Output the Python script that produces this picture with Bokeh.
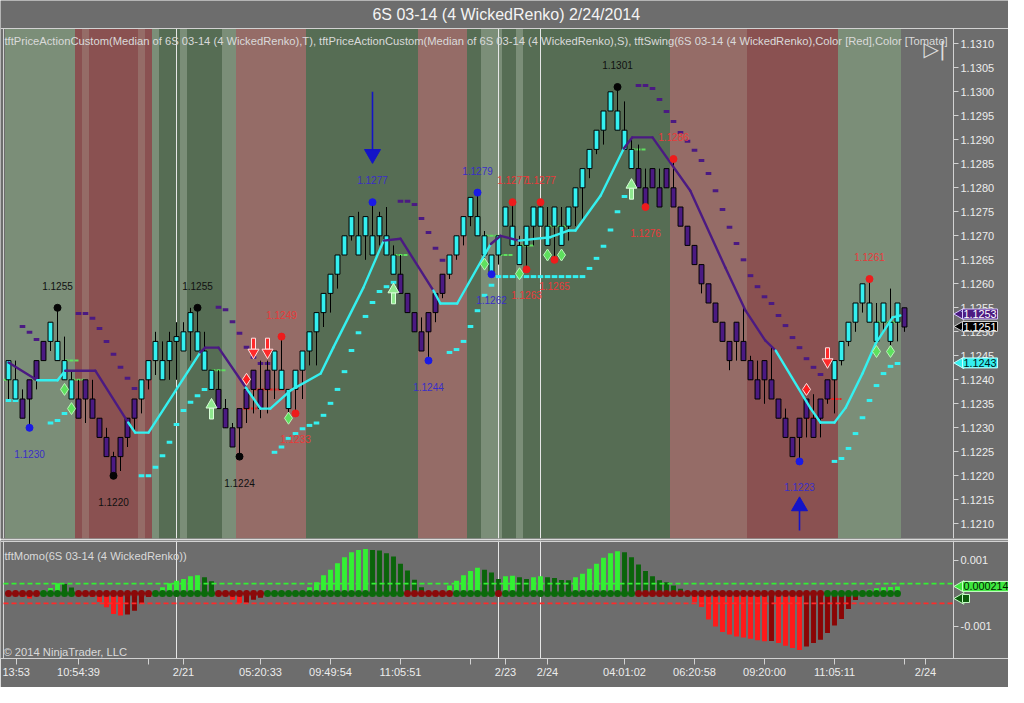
import numpy as np
from bokeh.plotting import figure
from bokeh.layouts import column
from bokeh.models import Range1d, FixedTicker, PrintfTickFormatter, Label, ColumnDataSource
from bokeh.core.properties import value
from bokeh.embed import file_html
from bokeh.resources import INLINE

# ------------------------------------------------------------------ texts
TITLE = "6S 03-14 (4 WickedRenko)  2/24/2014"
IND_TEXT = ("tftPriceActionCustom(Median of 6S 03-14 (4 WickedRenko),T), "
            "tftPriceActionCustom(Median of 6S 03-14 (4 WickedRenko),S), "
            "tftSwing(6S 03-14 (4 WickedRenko),Color [Red],Color [Tomato]")
MOMO_TEXT = "tftMomo(6S 03-14 (4 WickedRenko))"
COPYRIGHT = "\u00a9 2014 NinjaTrader, LLC"

# ------------------------------------------------------------------ data
BASE = 1.1200   # price of tick 0
TICK = 0.0001   # one tick

bar_open = [40, 36, 36, 40, 44, 48, 48, 44, 40, 36,
            36, 40, 36, 32, 28, 24, 28, 32, 36, 36,
            40, 44, 40, 44, 48, 46, 50, 46, 42, 38,
            38, 34, 30, 34, 38, 42, 38, 42, 42, 38,
            34, 38, 42, 46, 50, 54, 58, 62, 66, 70,
            66, 70, 66, 70, 66, 62, 62, 58, 54, 50,
            54, 58, 62, 62, 66, 70, 74, 70, 66, 62,
            66, 72, 68, 64, 68, 72, 72, 68, 72, 68,
            72, 76, 80, 84, 88, 92, 96, 92, 88, 84,
            84, 80, 84, 80, 84, 80, 76, 72, 68, 64,
            60, 56, 52, 48, 52, 48, 44, 40, 44, 40,
            36, 32, 28, 32, 36, 32, 36, 40, 40, 44,
            48, 52, 56, 52, 48, 52, 48, 52, 55]
bar_close = [44, 40, 32, 36, 40, 44, 52, 48, 44, 40,
             32, 36, 32, 28, 24, 20, 24, 28, 32, 40,
             44, 48, 44, 48, 49, 50, 54, 50, 46, 42,
             34, 30, 26, 30, 34, 38, 34, 38, 46, 42,
             38, 42, 46, 50, 54, 58, 62, 66, 70, 74,
             70, 74, 70, 74, 70, 66, 58, 54, 50, 46,
             50, 54, 58, 66, 70, 74, 78, 74, 70, 66,
             70, 76, 72, 68, 72, 76, 76, 72, 76, 72,
             76, 80, 84, 88, 92, 96, 100, 96, 92, 88,
             80, 76, 80, 76, 80, 76, 72, 68, 64, 60,
             56, 52, 48, 44, 48, 44, 40, 36, 40, 36,
             32, 28, 24, 28, 32, 28, 32, 36, 44, 48,
             52, 56, 60, 56, 52, 56, 52, 56, 51]
bar_high = [44, 44, 38, 40, 44, 48, 52, 55, 49, 42,
            40, 40, 40, 32, 30, 25, 28, 32, 36, 40,
            44, 50, 48, 50, 52, 52, 55, 55, 50, 42,
            42, 36, 31, 34, 38, 42, 44, 44, 46, 49,
            38, 42, 46, 50, 54, 58, 62, 66, 70, 74,
            75, 74, 77, 75, 76, 68, 66, 58, 54, 53,
            54, 58, 62, 66, 70, 74, 78, 79, 71, 66,
            70, 76, 77, 70, 72, 76, 77, 76, 76, 76,
            76, 80, 84, 88, 92, 96, 100, 101, 98, 90,
            89, 84, 84, 84, 84, 86, 76, 72, 68, 64,
            60, 56, 52, 48, 52, 55, 45, 44, 44, 47,
            36, 34, 28, 32, 36, 37, 36, 40, 44, 48,
            52, 56, 60, 61, 56, 56, 59, 56, 55]
bar_low = [36, 36, 32, 30, 38, 44, 46, 44, 40, 36,
           32, 31, 32, 28, 24, 20, 21, 26, 29, 33,
           38, 41, 40, 40, 40, 46, 44, 46, 42, 38,
           34, 30, 26, 24, 31, 33, 32, 33, 36, 38,
           32, 33, 36, 43, 43, 51, 54, 59, 66, 69,
           66, 65, 66, 68, 66, 62, 58, 54, 50, 46,
           44, 52, 57, 61, 65, 68, 72, 70, 65, 62,
           64, 72, 68, 64, 63, 68, 72, 68, 65, 68,
           69, 72, 73, 82, 87, 89, 96, 92, 88, 84,
           80, 76, 80, 76, 80, 76, 72, 68, 64, 58,
           56, 52, 48, 42, 44, 44, 40, 36, 35, 36,
           32, 28, 24, 23, 28, 28, 28, 35, 33, 43,
           47, 50, 54, 52, 48, 50, 46, 48, 50]

# median line (bar index, ticks) and its state per segment (U = rising/cyan, D = falling/purple)
ma_bar = [0, 4.1, 7, 8.1, 12.4, 17.1, 18.1, 20, 27.4, 28.1, 30, 33.9, 36, 37.4, 40.3,
          44.6, 46.4, 50.7, 53.6, 56, 60.7, 61.7, 64.1, 68.9, 70.3, 72.9, 77.4, 80, 81,
          84.6, 87.9, 89.1, 92, 97.4, 102.4, 105.3, 108.1, 109.6, 114.6, 116, 118, 119.6,
          122, 123.9, 126.3, 127.4]
ma_tick = [43.6, 39.9, 39.9, 41.9, 41.9, 31.1, 29.0, 29.0, 45.7, 46.7, 46.7, 38.4, 34.0,
           34.0, 37.8, 41.3, 46.7, 59.2, 69.0, 69.4, 58.6, 55.9, 55.9, 68.3, 70.0, 69.0,
           69.7, 71.1, 71.1, 78.4, 88.2, 90.5, 90.5, 79.4, 63.4, 54.4, 48.2, 46.1, 34.0,
           31.1, 31.1, 34.2, 41.3, 47.6, 53.0, 53.4]
ma_trend = "DUUDDUUUDDDUUUUUUUDDUUUDDUUUUUDDDDDDDUUUUUUU" + "U"

# trailing stop dashes
up_stop_bar = [0, 1, 6, 7, 8, 19, 20, 21, 22, 23, 24, 25, 26, 27, 28,
               38, 39, 40, 41, 42, 43, 44, 45, 46, 47, 48, 49, 50, 51, 52, 53, 54, 55,
               63, 64, 65, 66, 67, 68, 69, 70, 71, 72, 73, 74, 75, 76, 77, 78, 79, 80, 81, 82,
               83, 84, 85, 86, 87, 88,
               118, 119, 120, 121, 122, 123, 124, 125, 126, 127]
up_stop_tick = [35.7, 35.7, 31.0, 31.5, 33.0, 20.0, 20.0, 21.8, 24.2, 27.0, 30.7, 33.6, 35.3, 36.7, 38.0,
                24.9, 26.0, 27.8, 28.8, 29.8, 30.5, 31.0, 32.6, 35.1, 38.0, 41.7, 46.1, 49.8, 53.2, 56.1,
                58.4, 59.4, 60.3,
                45.7, 46.3, 48.0, 51.1, 54.4, 57.6, 59.7, 61.5, 61.5, 61.5, 61.5, 61.5, 61.5, 61.5, 61.5,
                61.5, 61.5, 61.5, 61.5, 61.5,
                63.2, 65.3, 67.8, 71.2, 75.0, 78.2,
                23.0, 23.6, 25.7, 28.8, 32.1, 35.7, 38.8, 41.3, 42.8, 43.4]
dn_stop_bar = [2, 3, 4, 10, 11, 12, 13, 14, 15, 16, 17, 18,
               30, 31, 32, 33, 34, 35, 36, 37,
               56, 57, 58, 59, 60, 61, 62,
               90, 91, 92, 93, 94, 95, 96, 97, 98, 99, 100, 101, 102, 103, 104, 105, 106,
               107, 108, 109, 110, 111, 112, 113, 114, 115, 116]
dn_stop_tick = [51.1, 49.9, 48.4, 53.8, 53.8, 52.8, 50.7, 48.0, 45.3, 42.6, 40.3, 38.2,
                55.1, 54.6, 52.1, 49.7, 46.8, 44.7, 43.4, 43.4,
                77.2, 77.2, 76.5, 73.6, 70.7, 67.4, 64.9,
                101.3, 101.3, 100.7, 98.4, 95.9, 93.8, 91.5, 89.7, 87.8, 85.7, 83.0, 79.4, 75.5,
                71.8, 68.4, 65.0, 61.7, 59.4, 57.3, 55.9, 53.4, 51.3, 48.8, 46.7, 44.4, 42.6, 41.1]

# short horizontal levels (from bar, to bar, ticks)
green_lvl_from = [-0.7, 8, 9, 29, 55, 68, 70, 73, 77, 89, 124]
green_lvl_to = [0.3, 10, 11, 31, 57, 70, 72, 75, 80, 91, 127.5]
green_lvl_tick = [40, 44, 40, 42, 66, 70, 66, 68, 72, 88, 52]
red_lvl_from = [33.5, 35, 114, 117]
red_lvl_to = [35.5, 39.5, 115.5, 119]
red_lvl_tick = [34, 38, 32, 36]

# swing points
swing_bar = [3, 7, 15, 27, 33, 39, 41, 52, 60, 67, 69, 72, 74, 76, 78, 87, 91, 95, 113, 123]
swing_tick = [30, 55, 20, 55, 24, 49, 33, 77, 44, 79, 62, 77, 63, 77, 65, 101, 76, 86, 23, 61]
swing_side = "LHLHLHLHLHLHLHLHLHLH"
swing_group = "BKKKKRRBBBBRRRRKRRBR"

# diamonds
green_dia_bar = [8, 9, 40, 68, 73, 77, 79, 124, 126]
green_dia_tick = [38, 34, 32, 64.1, 62.1, 66, 66, 45.9, 45.9]
red_dia_bar = [34, 114]
red_dia_tick = [40.1, 38]

# arrows (tip in ticks)
green_up_bar = [29, 55, 89]
green_up_tip = [36.1, 60.1, 81.9]
red_dn_bar = [35, 37, 117]
red_dn_tip = [44.4, 44.4, 42.4]
blue_dn_bar = [52]
blue_dn_tail = [100.0]
blue_dn_tip = [85.2]
blue_up_bar = [113]
blue_up_tail = [8.6]
blue_up_tip = [15.5]

# background state per bar (runs)
band_runs = [("LG", 10), ("RD", 1), ("PK", 1), ("RD", 7), ("PK", 1), ("RD", 1), ("LG", 1),
             ("DG", 3), ("LG", 1), ("DG", 5), ("LG", 2), ("PK", 10), ("DG", 16), ("PK", 7),
             ("DG", 2), ("LG", 3), ("DG", 2), ("LG", 1), ("DG", 21), ("PK", 11), ("RD", 13),
             ("LG", 9)]
session_bars = [24, 70, 76]

# momentum (units of 1e-5)
momo_e5 = [-5, -5, -10, -15, -6, 8, 17, 31, 29, 18,
           -2, -5, -11, -26, -42, -62, -67, -64, -52, -31,
           -11, 2, 19, 31, 39, 44, 52, 55, 49, 37,
           -3, -6, -19, -29, -28, -19, -13, -2, 1, 2,
           1, 2, 3, 19, 34, 55, 72, 92, 110, 125,
           132, 135, 132, 130, 122, 112, 90, 70, 42, 19,
           5, -2, -3, 24, 39, 55, 68, 78, 72, 64,
           44, 52, 54, 49, 44, 49, 52, 49, 47, 41,
           40, 49, 60, 75, 90, 108, 122, 128, 125, 110,
           88, 68, 52, 40, 34, 24, 14, 3, -26, -41,
           -79, -100, -117, -124, -130, -133, -137, -142, -145, -144,
           -150, -158, -165, -171, -161, -150, -140, -120, -97, -77,
           -47, -20, 2, 11, 16, 19, 20, 21.4]
momo_dot_runs = [("R", 5), ("G", 5), ("R", 11), ("G", 9), ("R", 7), ("G", 20), ("R", 7),
                 ("G", 6), ("R", 1), ("G", 19), ("R", 27), ("G", 11)]
momo_levels = [0.0003, -0.0003]

price_ticks = [round(1.1210 + 0.0005 * k, 4) for k in range(21)]
momo_ticks = [-0.001, 0.001]
time_ticks = [1.1, 10, 20, 25, 36, 46, 56, 66, 71, 77, 88, 98, 108, 118, 128, 131]
time_labels = ["13:53", "10:54:39", "", "2/21", "05:20:33", "09:49:54", "11:05:51", "",
               "2/23", "2/24", "04:01:02", "06:20:58", "09:20:00", "11:05:11", "", "2/24"]

tag_purple = 1.1253
tag_last = 1.1251
tag_stop = 1.1243
tag_momo = 0.000214
tag_dots = 0.0

# ------------------------------------------------------------------ styles / layout
FONT = "Liberation Sans"
BG = "#6d6d6d"
FRAME = "#d2d2d2"
LABEL = "#ececec"
BAND_COL = {"LG": "#7b8e78", "DG": "#566d54", "RD": "#8a5151", "PK": "#956c67"}
CYAN = "#34f0f0"
PURPLE = "#4b1a82"
LIME = "#33f033"
DKGREEN = "#0a640a"
RED = "#ff1a1a"
DKRED = "#8b0505"
SW_DOT = {"B": "#1a1ae6", "K": "#050505", "R": "#ee1c1c"}
SW_TXT = {"B": "#3a2fc8", "K": "#101010", "R": "#e83a3a"}

W = 1008
H_A, H_B = 539, 148
FH_A = H_A - 1                       # price frame includes the title strip
FH_B = 118
PXB = 7.0                            # screen px per bar
X0 = 8.0                             # screen x of bar 0
X_RANGE = (-X0 / PXB, (W - X0) / PXB)
LEFT_EDGE = -5.0 / PXB               # left border line of the panels
AXIS_X = 135.0                       # price scale sits right of the last bars
PRICE_RANGE = (1.120694, 1.131902)   # frame bottom .. canvas top
PRICE_FRAME_TOP = 1.131319           # top edge of the price panel (below the title strip)
MOMO_RANGE = (-0.00197, 0.001606)


def price(t):
    return BASE + np.asarray(t, dtype=float) * TICK


def style_axis(ax, tick_out):
    ax.major_label_text_color = LABEL
    ax.major_label_text_font = FONT
    ax.major_label_text_font_size = "11px"
    ax.axis_line_color = FRAME
    ax.major_tick_line_color = FRAME
    ax.major_tick_in = 0
    ax.major_tick_out = tick_out
    ax.minor_tick_line_color = None
    ax.major_label_standoff = 2


def tag(fig, yv, txt, bg, fg, border, ppx, shift=0.0, size="10.8px"):
    # ppx: data units per screen pixel on the y axis of fig
    fig.scatter(x=[AXIS_X + 7.0 / PXB], y=[yv + shift * ppx], marker="triangle",
                angle=np.pi / 2, size=11.5, fill_color=bg, line_color=border)
    fig.add_layout(Label(x=AXIS_X, y=yv, x_units="data", y_units="data", text=txt,
                         x_offset=9, y_offset=shift, text_align="left", text_baseline="middle",
                         text_font=FONT, text_font_size=size, text_color=fg,
                         background_fill_color=bg, border_line_color=border, padding=1))


# ------------------------------------------------------------------ price panel
pA = figure(width=W, height=H_A, x_range=Range1d(*X_RANGE), y_range=Range1d(*PRICE_RANGE),
            output_backend="svg", toolbar_location=None, x_axis_location=None,
            y_axis_location="right", min_border_left=0, min_border_right=0,
            min_border_top=0, min_border_bottom=1, background_fill_color=BG,
            border_fill_color=BG, outline_line_color=None)
pA.grid.visible = False
pxp = (PRICE_RANGE[1] - PRICE_RANGE[0]) / FH_A

ya = pA.yaxis[0]
ya.fixed_location = AXIS_X
ya.bounds = (PRICE_RANGE[0], PRICE_FRAME_TOP)
ya.ticker = FixedTicker(ticks=price_ticks)
ya.formatter = PrintfTickFormatter(format="%.4f")
style_axis(ya, 5)

# background bands
x0s, x1s, bcols = [], [], []
pos = -0.5
for kind, n in band_runs:
    x0s.append(pos)
    x1s.append(pos + n)
    bcols.append(BAND_COL[kind])
    pos += n
pA.quad(left=x0s, right=x1s, bottom=PRICE_RANGE[0], top=PRICE_FRAME_TOP, fill_color=bcols,
        line_color=None)
pA.segment(x0=session_bars, y0=PRICE_RANGE[0], x1=session_bars, y1=PRICE_FRAME_TOP,
           line_color="#e6e6e6", line_width=1)
pA.hspan(y=[PRICE_FRAME_TOP], line_color=FRAME, line_width=1)
pA.segment(x0=[LEFT_EDGE], y0=[PRICE_RANGE[0]], x1=[LEFT_EDGE], y1=[PRICE_FRAME_TOP],
           line_color=FRAME, line_width=1)

# trailing stops
pA.rect(x=up_stop_bar, y=price(up_stop_tick), width=0.8, height=3, height_units="screen",
        fill_color=CYAN, line_color=None)
pA.rect(x=dn_stop_bar, y=price(dn_stop_tick), width=0.8, height=3, height_units="screen",
        fill_color=PURPLE, line_color=None)

# short levels
pA.segment(x0=green_lvl_from, y0=price(green_lvl_tick), x1=green_lvl_to, y1=price(green_lvl_tick),
           line_color="#5fe05f", line_width=2, line_dash="4 1")
pA.segment(x0=red_lvl_from, y0=price(red_lvl_tick), x1=red_lvl_to, y1=price(red_lvl_tick),
           line_color="#e62222", line_width=2, line_dash="3 1")

# candles
o = price(bar_open)
c = price(bar_close)
bx = np.arange(len(bar_open))
csrc = ColumnDataSource(dict(x=bx, top=np.maximum(o, c), bottom=np.minimum(o, c),
                             high=price(bar_high), low=price(bar_low),
                             color=np.where(c > o, CYAN, PURPLE)))
pA.segment(x0="x", y0="high", x1="x", y1="low", source=csrc, line_color="black", line_width=1)
pA.vbar(x="x", width=0.7, top="top", bottom="bottom", source=csrc, fill_color="color",
        line_color="black", line_width=1)

# median line
mx = np.array(ma_bar)
my = price(ma_tick)
mcol = [CYAN if s == "U" else PURPLE for s in ma_trend[:len(mx) - 1]]
pA.segment(x0=mx[:-1], y0=my[:-1], x1=mx[1:], y1=my[1:], line_color=mcol, line_width=2.4,
           line_cap="round")

# swings
sx = np.array(swing_bar)
sy = price(swing_tick)
ssrc = ColumnDataSource(dict(
    x=sx, y=sy, text=["%.4f" % v for v in sy],
    dot=[SW_DOT[g] for g in swing_group], tc=[SW_TXT[g] for g in swing_group],
    off=[-22 if s == "H" else 26 for s in swing_side]))
pA.scatter(x="x", y="y", source=ssrc, size=7, fill_color="dot", line_color="dot")
pA.text(x="x", y="y", text="text", y_offset="off", source=ssrc, text_align="center",
        text_baseline="middle", text_font=value(FONT), text_font_size="10px", text_color="tc")

# diamonds
pA.scatter(x=green_dia_bar, y=price(green_dia_tick), marker="diamond", size=12,
           fill_color="#5ee05e", line_color="#b8f5b8", line_width=1)
pA.scatter(x=red_dia_bar, y=price(red_dia_tick), marker="diamond", size=12,
           fill_color="#ff1e1e", line_color="#ffe0e0", line_width=1)

# arrows
gt = price(green_up_tip)
pA.rect(x=green_up_bar, y=gt - 15 * pxp, width=4, width_units="screen", height=11 * pxp,
        fill_color="#8ee88e", line_color="#d8ffd8")
pA.scatter(x=green_up_bar, y=gt - 6.3 * pxp, marker="triangle", size=11,
           fill_color="#8ee88e", line_color="#d8ffd8")
rt = price(red_dn_tip)
pA.rect(x=red_dn_bar, y=rt + 15 * pxp, width=4, width_units="screen", height=11 * pxp,
        fill_color="#ff2a2a", line_color="#ffe0e0")
pA.scatter(x=red_dn_bar, y=rt + 6.3 * pxp, marker="inverted_triangle", size=11,
           fill_color="#ff2a2a", line_color="#ffe0e0")
BLUE = "#1414c8"
pA.segment(x0=blue_dn_bar, y0=price(blue_dn_tail), x1=blue_dn_bar,
           y1=price(blue_dn_tip) + 10 * pxp, line_color=BLUE, line_width=1.6)
pA.scatter(x=blue_dn_bar, y=price(blue_dn_tip) + 8.7 * pxp, marker="inverted_triangle", size=16,
           fill_color=BLUE, line_color=BLUE)
pA.segment(x0=blue_up_bar, y0=price(blue_up_tail), x1=blue_up_bar,
           y1=price(blue_up_tip) - 10 * pxp, line_color=BLUE, line_width=1.6)
pA.scatter(x=blue_up_bar, y=price(blue_up_tip) - 8.7 * pxp, marker="triangle", size=16,
           fill_color=BLUE, line_color=BLUE)

# texts and tags
pA.add_layout(Label(x=508, y=FH_A - 14, x_units="screen", y_units="screen", text=TITLE,
                    text_align="center", text_baseline="middle", text_font=FONT,
                    text_font_size="16px", text_color="#f4f4f4"))
pA.add_layout(Label(x=4, y=FH_A - 40, x_units="screen", y_units="screen", text=IND_TEXT,
                    text_align="left", text_baseline="middle", text_font=FONT,
                    text_font_size="11.2px", text_color="#dadada"))
pA.add_layout(Label(x=AXIS_X - 2.7, y=FH_A - 48, x_units="data", y_units="screen",
                    text="\u25b7|", text_align="center", text_baseline="middle",
                    text_font="DejaVu Sans", text_font_size="20px", text_color="#dcdcdc"))

tag(pA, tag_stop, "%.4f" % tag_stop, CYAN, "#002020", "#c0ffff", pxp, 2.5)
tag(pA, tag_purple, "%.4f" % tag_purple, PURPLE, "white", "#d8c8ff", pxp, 3.4)
tag(pA, tag_last, "%.4f" % tag_last, "black", "white", "#d0d0d0", pxp, 0.5)

# ------------------------------------------------------------------ momentum panel
pB = figure(width=W, height=H_B, x_range=pA.x_range, y_range=Range1d(*MOMO_RANGE),
            output_backend="svg", toolbar_location=None, y_axis_location="right",
            min_border_left=0, min_border_right=0, min_border_top=1,
            min_border_bottom=H_B - 1 - FH_B, background_fill_color=BG, border_fill_color=BG,
            outline_line_color=None)
pB.grid.visible = False
mpx = (MOMO_RANGE[1] - MOMO_RANGE[0]) / FH_B
pB.vspan(x=session_bars, line_color="#e6e6e6", line_width=1)
pB.hspan(y=[MOMO_RANGE[1] - 0.5 * mpx], line_color=FRAME, line_width=1)
pB.vspan(x=[LEFT_EDGE], line_color=FRAME, line_width=1)

m = np.array(momo_e5, dtype=float) * 1e-5
prev = np.concatenate([[m[0]], m[:-1]])
rising = m >= prev
mcolors = np.where(m >= 0, np.where(rising, LIME, DKGREEN), np.where(rising, DKRED, RED))
mxs = np.arange(len(m))
pB.vbar(x=mxs, width=0.7, top=np.maximum(m, 0), bottom=np.minimum(m, 0), fill_color=mcolors,
        line_color=None)
pB.segment(x0=[LEFT_EDGE, LEFT_EDGE], y0=momo_levels, x1=[AXIS_X, AXIS_X], y1=momo_levels,
           line_color=[LIME, "#ff2a2a"], line_width=1.6, line_dash="5 3")
dcols = []
for st, n in momo_dot_runs:
    dcols += ["#0b6a0b" if st == "G" else "#8b0a0a"] * n
pB.scatter(x=mxs, y=np.zeros(len(m)), size=7, fill_color=dcols, line_color=None)

yb = pB.yaxis[0]
yb.fixed_location = AXIS_X
yb.ticker = FixedTicker(ticks=momo_ticks)
yb.formatter = PrintfTickFormatter(format="%.3f")
style_axis(yb, 5)
xb = pB.xaxis[0]
xb.ticker = FixedTicker(ticks=time_ticks)
xb.major_label_overrides = {t: lab for t, lab in zip(time_ticks, time_labels)}
style_axis(xb, 6)
xb.major_label_standoff = 1

pB.add_layout(Label(x=4, y=FH_B - 15, x_units="screen", y_units="screen", text=MOMO_TEXT,
                    text_align="left", text_baseline="middle", text_font=FONT,
                    text_font_size="11.2px", text_color="#dadada"))
pB.add_layout(Label(x=3, y=7, x_units="screen", y_units="screen", text=COPYRIGHT,
                    text_align="left", text_baseline="middle", text_font=FONT,
                    text_font_size="11.2px", text_color="#dadada"))
tag(pB, tag_dots, "0", "#0b5e0b", "#0b5e0b", "#c8ffc8", mpx, -5, size="9px")
tag(pB, tag_momo, "%.6f" % tag_momo, "#3ee83e", "#002000", "#c8ffc8", mpx, 0)

layout = column(pA, pB, spacing=0)
open("out.html", "w").write(file_html(layout, INLINE))
